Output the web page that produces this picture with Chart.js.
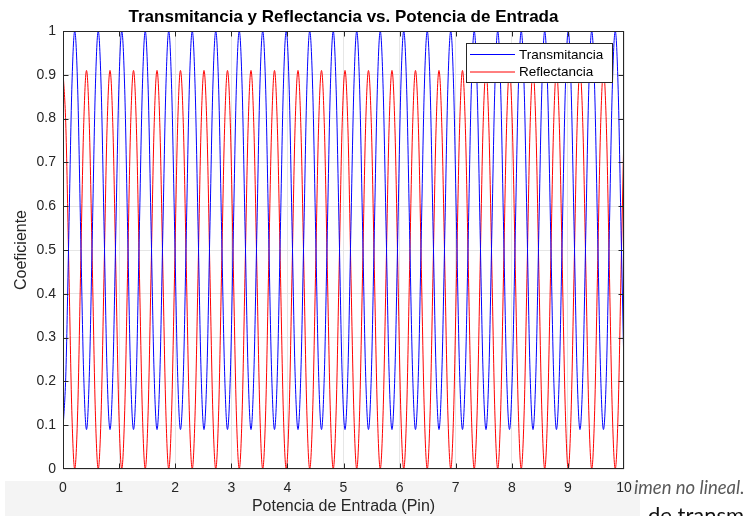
<!DOCTYPE html>
<html>
<head>
<meta charset="utf-8">
<script src="https://cdn.jsdelivr.net/npm/chart.js@4"></script>
<style>
  html, body { margin: 0; padding: 0; background: #fff; }
  canvas { display: block; }
</style>
</head>
<body>
<canvas id="chart" width="753" height="516"></canvas>
<script>
// x samples (Pin): one period ~0.419, 8 samples per period
const xs = [
  0.000, 0.052, 0.105, 0.157, 0.209, 0.262, 0.314, 0.367,
  0.419, 0.471, 0.524, 0.576, 0.628, 0.681, 0.733, 0.785,
  0.838, 0.890, 0.942, 0.995, 1.047, 1.100, 1.152, 1.204,
  1.257, 1.309, 1.361, 1.414, 1.466, 1.518, 1.571, 1.623,
  1.676, 1.728, 1.780, 1.833, 1.885, 1.937, 1.990, 2.042,
  2.094, 2.147, 2.199, 2.251, 2.304, 2.356, 2.409, 2.461,
  2.513, 2.566, 2.618, 2.670, 2.723, 2.775, 2.827, 2.880,
  2.932, 2.985, 3.037, 3.089, 3.142, 3.194, 3.246, 3.299,
  3.351, 3.403, 3.456, 3.508, 3.560, 3.613, 3.665, 3.718,
  3.770, 3.822, 3.875, 3.927, 3.979, 4.032, 4.084, 4.136,
  4.189, 4.241, 4.294, 4.346, 4.398, 4.451, 4.503, 4.555,
  4.608, 4.660, 4.712, 4.765, 4.817, 4.869, 4.922, 4.974,
  5.027, 5.079, 5.131, 5.184, 5.236, 5.288, 5.341, 5.393,
  5.445, 5.498, 5.550, 5.603, 5.655, 5.707, 5.760, 5.812,
  5.864, 5.917, 5.969, 6.021, 6.074, 6.126, 6.178, 6.231,
  6.283, 6.336, 6.388, 6.440, 6.493, 6.545, 6.597, 6.650,
  6.702, 6.754, 6.807, 6.859, 6.912, 6.964, 7.016, 7.069,
  7.121, 7.173, 7.226, 7.278, 7.330, 7.383, 7.435, 7.487,
  7.540, 7.592, 7.645, 7.697, 7.749, 7.802, 7.854, 7.906,
  7.959, 8.011, 8.063, 8.116, 8.168, 8.221, 8.273, 8.325,
  8.378, 8.430, 8.482, 8.535, 8.587, 8.639, 8.692, 8.744,
  8.796, 8.849, 8.901, 8.954, 9.006, 9.058, 9.111, 9.163,
  9.215, 9.268, 9.320, 9.372, 9.425, 9.477, 9.529, 9.582,
  9.634, 9.687, 9.739, 9.791, 9.844, 9.896, 9.948, 10.000
];

const transmitancia = [
  0.09, 0.223, 0.545, 0.867, 1, 0.867, 0.545, 0.223,
  0.09, 0.223, 0.545, 0.867, 1, 0.867, 0.545, 0.223,
  0.09, 0.223, 0.545, 0.867, 1, 0.867, 0.545, 0.223,
  0.09, 0.223, 0.545, 0.867, 1, 0.867, 0.545, 0.223,
  0.09, 0.223, 0.545, 0.867, 1, 0.867, 0.545, 0.223,
  0.09, 0.223, 0.545, 0.867, 1, 0.867, 0.545, 0.223,
  0.09, 0.223, 0.545, 0.867, 1, 0.867, 0.545, 0.223,
  0.09, 0.223, 0.545, 0.867, 1, 0.867, 0.545, 0.223,
  0.09, 0.223, 0.545, 0.867, 1, 0.867, 0.545, 0.223,
  0.09, 0.223, 0.545, 0.867, 1, 0.867, 0.545, 0.223,
  0.09, 0.223, 0.545, 0.867, 1, 0.867, 0.545, 0.223,
  0.09, 0.223, 0.545, 0.867, 1, 0.867, 0.545, 0.223,
  0.09, 0.223, 0.545, 0.867, 1, 0.867, 0.545, 0.223,
  0.09, 0.223, 0.545, 0.867, 1, 0.867, 0.545, 0.223,
  0.09, 0.223, 0.545, 0.867, 1, 0.867, 0.545, 0.223,
  0.09, 0.223, 0.545, 0.867, 1, 0.867, 0.545, 0.223,
  0.09, 0.223, 0.545, 0.867, 1, 0.867, 0.545, 0.223,
  0.09, 0.223, 0.545, 0.867, 1, 0.867, 0.545, 0.223,
  0.09, 0.223, 0.545, 0.867, 1, 0.867, 0.545, 0.223,
  0.09, 0.223, 0.545, 0.867, 1, 0.867, 0.545, 0.223,
  0.09, 0.223, 0.545, 0.867, 1, 0.867, 0.545, 0.223,
  0.09, 0.223, 0.545, 0.867, 1, 0.867, 0.545, 0.223,
  0.09, 0.223, 0.545, 0.867, 1, 0.867, 0.545, 0.223,
  0.09, 0.223, 0.545, 0.867, 1, 0.867, 0.545, 0.223
];

const reflectancia = [
  0.91, 0.777, 0.455, 0.133, 0, 0.133, 0.455, 0.777,
  0.91, 0.777, 0.455, 0.133, 0, 0.133, 0.455, 0.777,
  0.91, 0.777, 0.455, 0.133, 0, 0.133, 0.455, 0.777,
  0.91, 0.777, 0.455, 0.133, 0, 0.133, 0.455, 0.777,
  0.91, 0.777, 0.455, 0.133, 0, 0.133, 0.455, 0.777,
  0.91, 0.777, 0.455, 0.133, 0, 0.133, 0.455, 0.777,
  0.91, 0.777, 0.455, 0.133, 0, 0.133, 0.455, 0.777,
  0.91, 0.777, 0.455, 0.133, 0, 0.133, 0.455, 0.777,
  0.91, 0.777, 0.455, 0.133, 0, 0.133, 0.455, 0.777,
  0.91, 0.777, 0.455, 0.133, 0, 0.133, 0.455, 0.777,
  0.91, 0.777, 0.455, 0.133, 0, 0.133, 0.455, 0.777,
  0.91, 0.777, 0.455, 0.133, 0, 0.133, 0.455, 0.777,
  0.91, 0.777, 0.455, 0.133, 0, 0.133, 0.455, 0.777,
  0.91, 0.777, 0.455, 0.133, 0, 0.133, 0.455, 0.777,
  0.91, 0.777, 0.455, 0.133, 0, 0.133, 0.455, 0.777,
  0.91, 0.777, 0.455, 0.133, 0, 0.133, 0.455, 0.777,
  0.91, 0.777, 0.455, 0.133, 0, 0.133, 0.455, 0.777,
  0.91, 0.777, 0.455, 0.133, 0, 0.133, 0.455, 0.777,
  0.91, 0.777, 0.455, 0.133, 0, 0.133, 0.455, 0.777,
  0.91, 0.777, 0.455, 0.133, 0, 0.133, 0.455, 0.777,
  0.91, 0.777, 0.455, 0.133, 0, 0.133, 0.455, 0.777,
  0.91, 0.777, 0.455, 0.133, 0, 0.133, 0.455, 0.777,
  0.91, 0.777, 0.455, 0.133, 0, 0.133, 0.455, 0.777,
  0.91, 0.777, 0.455, 0.133, 0, 0.133, 0.455, 0.777
];

const xTicks = [0, 1, 2, 3, 4, 5, 6, 7, 8, 9, 10];
const yTicks = [0, 0.1, 0.2, 0.3, 0.4, 0.5, 0.6, 0.7, 0.8, 0.9, 1];

const seriesNames = ['Transmitancia', 'Reflectancia'];
const seriesColors = ['#0000ff', '#ff0000'];

const FONT = '"Liberation Sans", Arial, sans-serif';
const AXIS = '#262626';

// title, axis labels, box, inward ticks, legend, surrounding page text
const matlabLook = {
  id: 'matlabLook',
  beforeDraw(chart) {
    const ctx = chart.ctx;
    ctx.save();
    ctx.fillStyle = '#f4f4f4';
    ctx.fillRect(5, 481, 635, 35);
    ctx.restore();
  },
  afterDraw(chart) {
    const { ctx, chartArea: a, scales } = chart;
    const L = a.left + 0.5, R = a.right - 0.5, T = a.top + 0.5, B = a.bottom - 0.5;
    ctx.save();

    // box
    ctx.strokeStyle = AXIS; ctx.lineWidth = 1;
    ctx.strokeRect(L, T, R - L, B - T);

    // inward ticks
    ctx.beginPath();
    xTicks.forEach(v => {
      const x = Math.min(R, Math.max(L, Math.round(scales.x.getPixelForValue(v)) + 0.5));
      ctx.moveTo(x, B); ctx.lineTo(x, B - 5);
      ctx.moveTo(x, T); ctx.lineTo(x, T + 5);
    });
    yTicks.forEach(v => {
      const y = Math.min(B, Math.max(T, Math.round(scales.y.getPixelForValue(v)) + 0.5));
      ctx.moveTo(L, y); ctx.lineTo(L + 5, y);
      ctx.moveTo(R, y); ctx.lineTo(R - 5, y);
    });
    ctx.stroke();

    // title
    ctx.fillStyle = '#000';
    ctx.font = 'bold 17px ' + FONT;
    ctx.textAlign = 'center'; ctx.textBaseline = 'middle';
    ctx.fillText('Transmitancia y Reflectancia vs. Potencia de Entrada', (a.left + a.right) / 2, 17);

    // axis labels
    ctx.fillStyle = AXIS;
    ctx.font = '16px ' + FONT;
    ctx.fillText('Potencia de Entrada (Pin)', (a.left + a.right) / 2, 507);
    ctx.save();
    ctx.translate(22, (a.top + a.bottom) / 2);
    ctx.rotate(-Math.PI / 2);
    ctx.fillText('Coeficiente', 0, 0);
    ctx.restore();

    // legend
    const lx = 466, ly = 43, lw = 146, lh = 39;
    ctx.fillStyle = '#fff';
    ctx.fillRect(lx, ly, lw, lh);
    ctx.strokeStyle = AXIS;
    ctx.strokeRect(lx + 0.5, ly + 0.5, lw, lh);
    ctx.font = '13.5px ' + FONT;
    ctx.textAlign = 'left';
    seriesNames.forEach((n, i) => {
      const y = ly + 11 + i * 17.5;
      ctx.strokeStyle = seriesColors[i]; ctx.lineWidth = 1;
      ctx.beginPath(); ctx.moveTo(lx + 4, y + 0.5); ctx.lineTo(lx + 49, y + 0.5); ctx.stroke();
      ctx.fillStyle = '#000';
      ctx.fillText(n, lx + 53, y + 1);
    });

    // page text around the figure
    ctx.fillStyle = '#5a5a5a';
    ctx.font = 'italic 18.5px Lato, ' + FONT;
    ctx.fillText('imen no lineal.', 634, 488);
    ctx.fillStyle = '#111';
    ctx.font = '22px Lato, ' + FONT;
    ctx.fillText('de transm', 648, 516);
    ctx.restore();
  }
};

new Chart(document.getElementById('chart'), {
  type: 'line',
  data: {
    datasets: [
      { label: seriesNames[0], data: xs.map((x, i) => ({ x, y: transmitancia[i] })),
        borderColor: seriesColors[0], borderWidth: 1, pointRadius: 0, fill: false, cubicInterpolationMode: 'monotone' },
      { label: seriesNames[1], data: xs.map((x, i) => ({ x, y: reflectancia[i] })),
        borderColor: seriesColors[1], borderWidth: 1, pointRadius: 0, fill: false, cubicInterpolationMode: 'monotone' },
    ]
  },
  options: {
    responsive: false, animation: false,
    layout: { padding: { left: 0, top: 31, right: 129, bottom: 0 } },
    plugins: { legend: { display: false }, title: { display: false }, tooltip: { enabled: false } },
    scales: {
      x: {
        type: 'linear', min: 0, max: 10,
        afterFit: s => { s.height = 47; },
        afterBuildTicks: s => { s.ticks = xTicks.map(v => ({ value: v })); },
        grid: { color: '#e6e6e6', drawTicks: false },
        border: { display: false },
        ticks: { color: AXIS, padding: 11, maxRotation: 0, font: { family: FONT, size: 14 }, callback: v => String(v) },
      },
      y: {
        min: 0, max: 1,
        afterFit: s => { s.width = 63; },
        afterBuildTicks: s => { s.ticks = yTicks.map(v => ({ value: v })); },
        grid: { color: '#e6e6e6', drawTicks: false },
        border: { display: false },
        ticks: { color: AXIS, padding: 7, font: { family: FONT, size: 14 }, callback: v => String(Math.round(v * 10) / 10) },
      },
    },
  },
  plugins: [matlabLook],
});
</script>
</body>
</html>
